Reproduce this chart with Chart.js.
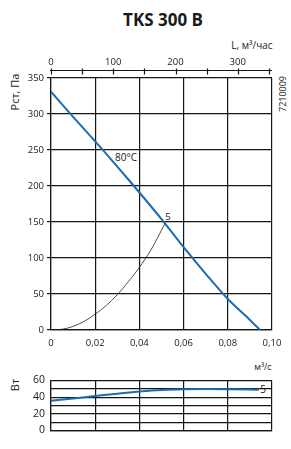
<!DOCTYPE html>
<html>
<head>
<meta charset="utf-8">
<script src="https://cdn.jsdelivr.net/npm/chart.js@4.4.0/dist/chart.umd.min.js"></script>
<style>
  html, body { margin: 0; padding: 0; background: #fff; }
  body { width: 291px; height: 449px; position: relative; overflow: hidden; font-family: "Open Sans", sans-serif; color: #1a1a1a; }
  canvas { position: absolute; left: 0; }
  #pressureChart { top: 0; }
  #powerChart { top: 360px; }
  .lbl { position: absolute; white-space: nowrap; line-height: 1; transform: translate(-50%, -50%); }
  .rot { transform: translate(-50%, -50%) rotate(-90deg); }
</style>
</head>
<body>
<div class="lbl" style="left:163px; top:19px; font-weight:700; font-size:17px;">TKS 300 B</div>
<div class="lbl" style="left:252px; top:45px; font-size:10px;">L, м³/час</div>
<div class="lbl rot" style="left:14px; top:92px; font-size:11px;">Рст, Па</div>
<div class="lbl rot" style="left:282px; top:94px; font-size:9px;">7210009</div>
<div class="lbl" style="left:126px; top:157px; font-size:10px;">80°C</div>
<div class="lbl" style="left:168px; top:217px; font-size:9.5px;">5</div>
<div class="lbl" style="left:263px; top:366px; font-size:9px;">м³/с</div>
<div class="lbl rot" style="left:14px; top:385px; font-size:11px;">Вт</div>
<div class="lbl" style="left:263px; top:389px; font-size:10px; background:#fff; padding:0 1px;">5</div>

<canvas id="pressureChart" width="291" height="360"></canvas>
<canvas id="powerChart" width="291" height="89"></canvas>

<script>
// flow, m3/s
const flow = [0, 0.01, 0.02, 0.03, 0.04, 0.05, 0.06, 0.07, 0.08, 0.09, 0.0946];
// static pressure at 80°C, Pa
const pressure = [331, 296, 262, 227, 191, 154, 115, 78, 43, 14, 0];

// system curve up to working point 5
const sysFlow = [0, 0.005, 0.01, 0.015, 0.02, 0.025, 0.03, 0.035, 0.04, 0.045, 0.0516];
const sysPressure = [0, 1, 5, 12, 22, 34, 49, 67, 87, 110, 148];

// power consumption, W
const powerFlow = [0, 0.01, 0.02, 0.03, 0.04, 0.05, 0.06, 0.07, 0.08, 0.09, 0.094];
const power = [35.7, 38.5, 41.3, 44.2, 46.7, 48.6, 49.5, 49.7, 49.5, 49.1, 48.8];

const flowTicks = [0, 0.02, 0.04, 0.06, 0.08, 0.10];
const pressureTicks = [0, 50, 100, 150, 200, 250, 300, 350];
const hourTickLabels = [0, 100, 200, 300];
const powerTickLabels = [0, 20, 40, 60];

const lineColor = '#1b6cb0';
const gridColor = '#151515';
const tickFont = { family: '"Open Sans", sans-serif', size: 9.5 };

function toXY(xs, ys) {
    return xs.map((x, i) => ({ x: x, y: ys[i] }));
}

function fmtFlow(v) {
    return v.toFixed(2).replace('.', ',').replace(/^0,00$/, '0');
}

// second axis in m3/h sits a few px above the plot frame
const topAxisPlugin = {
    id: 'topAxis',
    afterDraw(chart) {
        const scale = chart.scales.x2;
        if (!scale) return;
        const ctx = chart.ctx;
        const area = chart.chartArea;
        const y = area.top - 7.5;
        ctx.save();
        ctx.strokeStyle = gridColor;
        ctx.lineWidth = 1.2;
        ctx.beginPath();
        ctx.moveTo(area.left - 1, y);
        ctx.lineTo(area.right, y);
        scale.ticks.forEach(t => {
            const x = Math.round(scale.getPixelForValue(t.value)) + 0.5;
            ctx.moveTo(x, y - 2);
            ctx.lineTo(x, y + 4);
        });
        ctx.stroke();
        ctx.restore();
    }
};

new Chart(document.getElementById('pressureChart').getContext('2d'), {
    type: 'line',
    data: {
        datasets: [
            {
                label: '80°C',
                data: toXY(flow, pressure),
                borderColor: lineColor,
                borderWidth: 2,
                pointRadius: 0,
                tension: 0.3,
                fill: false
            },
            {
                label: 'system',
                data: toXY(sysFlow, sysPressure),
                borderColor: '#222',
                borderWidth: 0.8,
                pointRadius: 0,
                cubicInterpolationMode: 'monotone',
                fill: false
            }
        ]
    },
    options: {
        responsive: false,
        devicePixelRatio: 1,
        animation: false,
        layout: { padding: { left: 0, right: 19, top: 0, bottom: 0 } },
        plugins: { legend: { display: false }, tooltip: { enabled: false } },
        scales: {
            x: {
                type: 'linear',
                position: 'bottom',
                min: 0,
                max: 0.1,
                afterBuildTicks: s => { s.ticks = flowTicks.map(v => ({ value: v })); },
                afterFit: s => { s.height = 30; },
                ticks: { font: tickFont, color: '#1a1a1a', padding: 8, maxRotation: 0, callback: v => fmtFlow(v) },
                grid: { color: gridColor, lineWidth: 1.2, drawTicks: false },
                border: { color: gridColor, width: 1.2 }
            },
            x2: {
                type: 'linear',
                position: 'top',
                min: 0,
                max: 355,
                afterBuildTicks: s => {
                    const t = [];
                    for (let v = 0; v <= 350; v += 50) t.push({ value: v });
                    s.ticks = t;
                },
                afterFit: s => { s.height = 78; },
                ticks: {
                    font: tickFont, color: '#1a1a1a', padding: 10, maxRotation: 0, autoSkip: false,
                    callback: v => hourTickLabels.includes(v) ? String(v) : ''
                },
                grid: { display: false, drawTicks: false },
                border: { display: false }
            },
            y: {
                min: 0,
                max: 350,
                afterBuildTicks: s => { s.ticks = pressureTicks.map(v => ({ value: v })); },
                afterFit: s => { s.width = 51; },
                ticks: { font: tickFont, color: '#1a1a1a', padding: 3 },
                grid: { color: gridColor, lineWidth: 1.2, tickLength: 4 },
                border: { color: gridColor, width: 1.2 }
            }
        }
    },
    plugins: [topAxisPlugin]
});

new Chart(document.getElementById('powerChart').getContext('2d'), {
    type: 'line',
    data: {
        datasets: [{
            label: '5',
            data: toXY(powerFlow, power),
            borderColor: lineColor,
            borderWidth: 2,
            pointRadius: 0,
            cubicInterpolationMode: 'monotone',
            fill: false
        }]
    },
    options: {
        responsive: false,
        devicePixelRatio: 1,
        animation: false,
        layout: { padding: { left: 0, right: 19, top: 20.5, bottom: 0 } },
        plugins: { legend: { display: false }, tooltip: { enabled: false } },
        scales: {
            x: {
                type: 'linear',
                min: 0,
                max: 0.1,
                afterBuildTicks: s => { s.ticks = flowTicks.map(v => ({ value: v })); },
                afterFit: s => { s.height = 18.5; },
                ticks: { display: false },
                grid: { color: gridColor, lineWidth: 1.2, drawTicks: false },
                border: { color: gridColor, width: 1.2 }
            },
            y: {
                min: 0,
                max: 60,
                afterBuildTicks: s => {
                    const t = [];
                    for (let v = 0; v <= 60; v += 10) t.push({ value: v });
                    s.ticks = t;
                },
                afterFit: s => { s.width = 51; },
                ticks: {
                    font: { family: '"Open Sans", sans-serif', size: 10.5 }, color: '#1a1a1a', padding: 6, autoSkip: false,
                    callback: v => powerTickLabels.includes(v) ? String(v) : ''
                },
                grid: { color: gridColor, lineWidth: 1.2, drawTicks: false },
                border: { color: gridColor, width: 1.2 }
            }
        }
    }
});
</script>
</body>
</html>
